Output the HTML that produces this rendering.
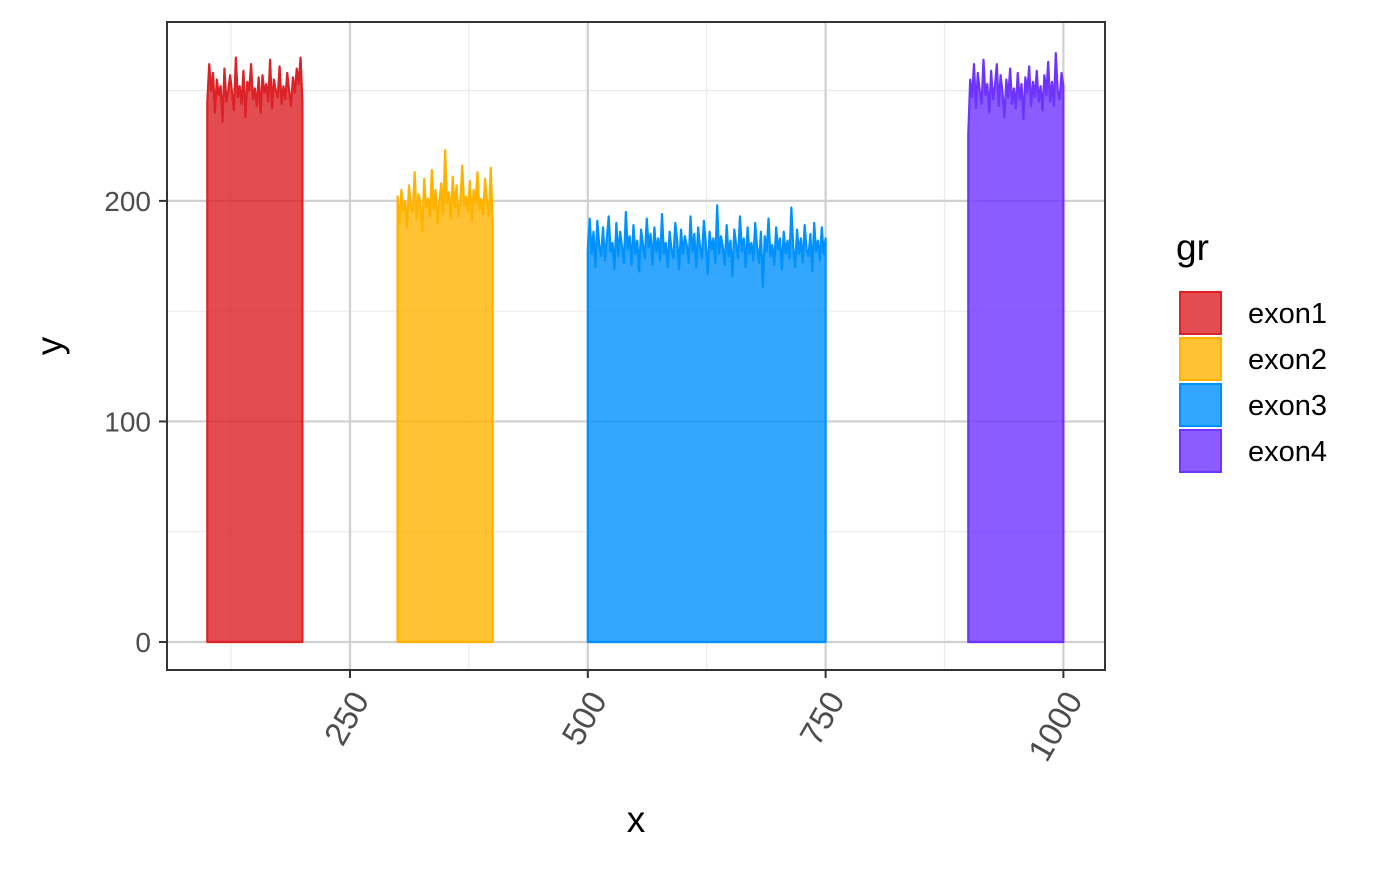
<!DOCTYPE html>
<html><head><meta charset="utf-8"><style>
body{margin:0;background:#fff}
svg text{font-family:"Liberation Sans",Arial,sans-serif}
</style></head><body>
<svg id="chart" width="1400" height="866" xmlns="http://www.w3.org/2000/svg"></svg>
<script>
const groups=["exon1","exon2","exon3","exon4"];
const starts=[100,300,500,900];
const steps=[2,2,2,2];
const lineColors=["#dc2127","#ffb300","#0091ff","#6e33ff"];
const exon1=[245,262,250,258,240,255,248,252,236,260,245,250,257,249,241,265,247,252,244,259,238,254,250,262,246,251,243,256,240,257,249,253,245,264,242,255,250,247,261,244,252,246,258,250,243,256,249,260,253,265,245];
const exon2=[202,190,205,196,200,188,207,198,195,213,192,203,199,186,210,197,201,193,214,196,205,190,200,208,194,223,199,204,192,211,197,207,193,200,216,198,202,195,209,191,205,199,213,196,201,194,210,200,193,215,190];
const exon3=[178,192,176,186,170,191,180,175,188,173,183,193,177,181,169,190,175,186,179,172,195,178,184,171,189,176,182,168,187,180,174,192,179,185,171,188,177,183,173,194,176,181,170,186,178,174,190,182,169,187,176,184,180,172,193,177,185,170,188,179,174,191,181,167,186,178,183,172,198,176,184,179,171,189,175,182,166,187,180,174,193,177,183,170,188,176,181,173,190,179,172,186,161,184,177,192,175,180,171,188,178,183,169,186,176,182,174,197,179,170,187,176,183,172,189,178,175,185,168,190,177,182,173,188,176,183];
const exon4=[230,255,247,262,242,258,250,244,264,248,253,240,259,246,252,262,243,257,249,238,255,247,260,244,251,242,258,246,253,237,256,249,261,243,254,247,259,245,252,241,257,248,263,245,254,243,267,250,246,258,252];
const series=[exon1,exon2,exon3,exon4];
const yTicks=[0,100,200];
const xTicks=[250,500,750,1000];
const P={l:167,r:1105,t:22,b:670};
const X=v=>112.2+v*0.9512;
const Y=v=>642-v*2.2055;
const svg=document.getElementById('chart');
const NS="http://www.w3.org/2000/svg";
function el(t,a,p){const e=document.createElementNS(NS,t);for(const k in a)e.setAttribute(k,a[k]);(p||svg).appendChild(e);return e;}
[50,150,250].forEach(v=>{const l=el('line',{x1:P.l,x2:P.r,y1:Y(v),y2:Y(v),stroke:'#ebebeb','stroke-width':1.2});

});
[125,375,625,875].forEach(v=>{const l=el('line',{x1:X(v),x2:X(v),y1:P.t,y2:P.b,stroke:'#ebebeb','stroke-width':1.2});

});
yTicks.forEach(v=>{const l=el('line',{x1:P.l,x2:P.r,y1:Y(v),y2:Y(v),stroke:'#d0d0d0','stroke-width':2.2});


const t=el('text',{x:151,y:Y(v)+10,'text-anchor':'end','font-size':28,fill:'#4d4d4d'});t.textContent=v;


el('line',{x1:159,x2:P.l,y1:Y(v),y2:Y(v),stroke:'#333','stroke-width':2});});
xTicks.forEach(v=>{const l=el('line',{x1:X(v),x2:X(v),y1:P.t,y2:P.b,stroke:'#d0d0d0','stroke-width':2.2});


el('line',{x1:X(v),x2:X(v),y1:P.b,y2:P.b+8,stroke:'#333','stroke-width':2});
const ax=X(v)+20,ay=P.b+30;
const t=el('text',{x:ax,y:ay,'text-anchor':'end','font-size':33,fill:'#4d4d4d',transform:`rotate(-60 ${ax} ${ay})`});t.textContent=v;

});
series.forEach((d,i)=>{
 const pts=d.map((v,j)=>[X(starts[i]+j*steps[i]),Y(v)]);
 let path=`M${pts[0][0]},${Y(0)} `+pts.map(p=>`L${p[0]},${p[1]}`).join(' ')+` L${pts[pts.length-1][0]},${Y(0)} Z`;
 const a=el('path',{d:path,fill:lineColors[i],'fill-opacity':0.8,stroke:lineColors[i],'stroke-width':2.2,'stroke-linejoin':'round'});
 
 
});
const fr=el('rect',{x:P.l,y:P.t,width:P.r-P.l,height:P.b-P.t,fill:'none',stroke:'#333','stroke-width':2});


const xt=el('text',{x:636,y:832,'text-anchor':'middle','font-size':37,fill:'#000'});xt.textContent='x';


const yt=el('text',{x:62,y:346,'text-anchor':'middle','font-size':37,fill:'#000',transform:'rotate(-90 62 346)'});yt.textContent='y';


const lt=el('text',{x:1176,y:260,'font-size':37,fill:'#000'});lt.textContent='gr';


groups.forEach((g,i)=>{
 const y0=292+i*46;
 const r=el('rect',{x:1180,y:y0,width:41,height:42,fill:lineColors[i],'fill-opacity':0.8,stroke:lineColors[i],'stroke-width':2});
 
 
 const t=el('text',{x:1248,y:y0+31,'font-size':29,fill:'#000'});t.textContent=g;
 
 
});
</script>
</body></html>
